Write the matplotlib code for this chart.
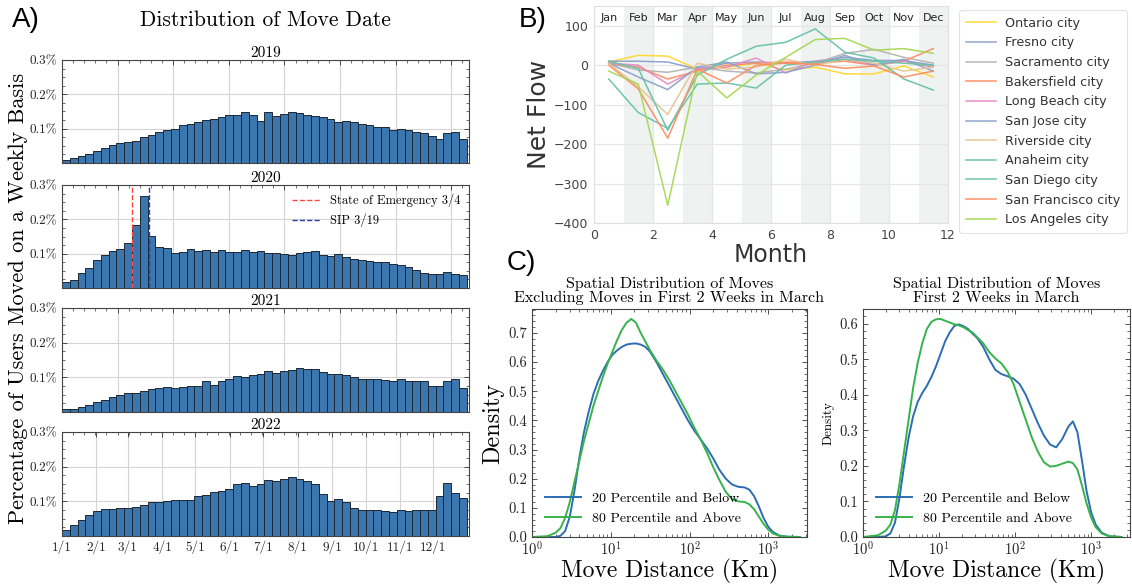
import numpy as np
import matplotlib
matplotlib.use("Agg")
import matplotlib.pyplot as plt
import matplotlib.ticker as mticker

# ---------------- DATA ----------------
# Panel A: weekly share of users moving (%), 52 weeks per year
years = ["2019", "2020", "2021", "2022"]
moves_2019 = [.010, .014, .019, .027, .035, .044, .053, .057, .061, .065,
              .076, .081, .090, .096, .100, .111, .115, .119, .124, .129,
              .133, .139, .141, .149, .139, .121, .149, .138, .144, .148,
              .146, .141, .136, .133, .129, .118, .123, .120, .113, .112,
              .105, .104, .097, .098, .095, .090, .087, .080, .070, .087,
              .091, .071]
moves_2020 = [.018, .024, .043, .059, .081, .097, .109, .114, .132, .184,
              .267, .151, .118, .116, .103, .105, .113, .108, .112, .106,
              .112, .106, .104, .112, .106, .109, .103, .101, .099, .097,
              .103, .105, .107, .097, .094, .099, .090, .084, .082, .080,
              .076, .076, .070, .066, .062, .052, .045, .042, .040, .047,
              .041, .039]
moves_2021 = [.008, .010, .014, .020, .028, .035, .044, .049, .054, .055,
              .061, .067, .069, .071, .069, .071, .075, .076, .088, .079,
              .088, .096, .105, .102, .108, .111, .117, .113, .119, .120,
              .126, .124, .124, .115, .110, .111, .106, .100, .095, .096,
              .096, .092, .090, .096, .090, .088, .090, .076, .076, .089,
              .094, .068]
moves_2022 = [.016, .033, .047, .062, .072, .079, .079, .080, .082, .084,
              .090, .097, .098, .102, .104, .105, .105, .116, .118, .126,
              .130, .136, .150, .153, .145, .151, .162, .159, .164, .169,
              .165, .160, .151, .121, .102, .106, .097, .081, .076, .076,
              .076, .071, .070, .074, .073, .075, .074, .075, .115, .152,
              .125, .110]
month_start_days = [0, 31, 59, 90, 120, 151, 181, 212, 243, 273, 304, 334]
month_start_labels = ["1/1", "2/1", "3/1", "4/1", "5/1", "6/1", "7/1", "8/1",
                      "9/1", "10/1", "11/1", "12/1"]
emergency_day = 63   # 3/4
sip_day = 78         # 3/19

# Panel B: monthly net flow per city
month_names = ["Jan", "Feb", "Mar", "Apr", "May", "Jun", "Jul", "Aug",
               "Sep", "Oct", "Nov", "Dec"]
month_pos = [0.5, 1.5, 2.5, 3.5, 4.5, 5.5, 6.5, 7.5, 8.5, 9.5, 10.5, 11.5]
cities = ["Ontario city", "Fresno city", "Sacramento city", "Bakersfield city",
          "Long Beach city", "San Jose city", "Riverside city", "Anaheim city",
          "San Diego city", "San Francisco city", "Los Angeles city"]
ontario = [8, 25, 23, -10, -5, 5, -12, -5, -22, -22, -2, -30]
fresno = [10, 10, 8, -10, 5, 8, 5, 10, 20, 12, 12, 0]
sacramento = [5, -12, -18, -5, -15, -20, -10, 5, 30, 40, 20, 5]
bakersfield = [5, -5, -35, -15, 0, 5, 8, 5, 10, 0, 10, 42]
long_beach = [5, 0, -48, -10, -5, 18, -20, 10, 15, 0, 10, -5]
san_jose = [5, -30, -62, -5, 8, -22, -18, 0, 25, 0, 15, -15]
riverside = [5, -55, -125, 5, -10, -5, 15, 0, 15, 5, -15, -5]
anaheim = [10, -8, -165, -25, 15, 48, 58, 92, 33, 18, -35, -63]
san_diego = [-35, -120, -160, -48, -45, -58, 0, 8, 15, 10, 5, 0]
san_francisco = [0, -60, -185, -10, -45, 0, 5, 2, -8, -2, -30, -15]
los_angeles = [-15, -48, -355, -15, -83, -25, 20, 65, 68, 38, 42, 30]
city_colors = ["#ffd92f", "#8da0cb", "#b3b3b3", "#fc8d62", "#e78ac3", "#8da0cb",
               "#e5c494", "#66c2a5", "#66c2a5", "#fc8d62", "#a6d854"]

# Panel C: density of move distance (log10 km grid)
log_dist = [0.0, 0.2, 0.3, 0.36, 0.42, 0.48, 0.54, 0.60, 0.66, 0.72, 0.78, 0.84,
            0.90, 0.96, 1.02, 1.08, 1.14, 1.20, 1.26, 1.32, 1.38, 1.44, 1.50,
            1.58, 1.66, 1.74, 1.82, 1.90, 1.98, 2.06, 2.14, 2.22, 2.30, 2.38,
            2.46, 2.54, 2.62, 2.70, 2.76, 2.82, 2.88, 2.94, 3.00, 3.06, 3.14,
            3.24, 3.40]
excl_low = [0, 0, 0, .004, .02, .07, .16, .27, .36, .43, .49, .535, .57, .60,
            .625, .64, .652, .66, .663, .664, .66, .652, .635, .60, .56, .52,
            .48, .44, .40, .365, .335, .305, .27, .23, .20, .18, .172, .17,
            .162, .14, .105, .065, .035, .017, .005, .001, 0]
excl_high = [0, .003, .015, .03, .065, .12, .19, .26, .33, .39, .45, .50, .55,
             .595, .635, .675, .71, .735, .748, .735, .70, .67, .64, .605, .575,
             .54, .50, .46, .42, .375, .335, .29, .24, .195, .155, .13, .122,
             .12, .112, .095, .07, .045, .025, .012, .004, .001, 0]
march_low = [0, 0, .002, .01, .04, .11, .20, .28, .34, .38, .405, .425, .45,
             .48, .515, .55, .575, .593, .598, .593, .585, .572, .56, .535, .50,
             .47, .458, .452, .445, .43, .40, .36, .32, .285, .26, .252, .275,
             .31, .325, .295, .215, .13, .07, .035, .012, .002, 0]
march_high = [0, .005, .018, .035, .075, .15, .24, .33, .42, .49, .545, .585,
              .605, .612, .613, .608, .603, .598, .595, .59, .582, .575, .562,
              .545, .52, .502, .488, .465, .43, .38, .33, .28, .24, .21, .198,
              .20, .206, .212, .208, .19, .145, .095, .055, .028, .01, .002, 0]
group_labels = ["20 Percentile and Below", "80 Percentile and Above"]

# ---------------- STYLE ----------------
plt.rcParams["font.family"] = ["cmr10", "DejaVu Serif"]
plt.rcParams["mathtext.fontset"] = "cm"
plt.rcParams["axes.formatter.use_mathtext"] = True
plt.rcParams["axes.unicode_minus"] = False

SANS = ["DejaVu Sans"]
LABEL_FONT = ["Liberation Sans", "DejaVu Sans"]

fig = plt.figure(figsize=(11.32, 5.88), dpi=100)
W, H = 1132.0, 588.0


def box(l, t, r, b):
    return [l / W, 1 - b / H, (r - l) / W, (b - t) / H]


def sci_ticks(ax):
    ax.tick_params(which="both", direction="in", top=True, right=True,
                   colors="#333333", labelcolor="#222222")
    ax.tick_params(which="major", length=3.5, width=0.6)
    ax.tick_params(which="minor", length=2, width=0.5)
    for s in ax.spines.values():
        s.set_linewidth(0.8)
        s.set_color("#444444")


# ---------------- PANEL A ----------------
year_values = [moves_2019, moves_2020, moves_2021, moves_2022]
rows = [(60, 163), (185, 288), (308, 412), (432, 536)]
for yr, vals, (t, b) in zip(years, year_values, rows):
    ax = fig.add_axes(box(62, t, 469, b))
    weeks = np.arange(len(vals)) * 7
    ax.bar(weeks, np.array(vals), width=7, align="edge", color="#3b76af",
           edgecolor="#1c2733", linewidth=0.7, zorder=2)
    ax.set_xlim(0, 366)
    ax.set_ylim(0, 0.3)
    ax.set_yticks([0.1, 0.2, 0.3])
    ax.yaxis.set_major_formatter(mticker.FuncFormatter(lambda v, p: f"{v:.1f}%"))
    ax.yaxis.set_minor_locator(mticker.AutoMinorLocator(4))
    ax.grid(True, which="major", color="#d4d4d4", linewidth=0.8, zorder=0)
    ax.set_axisbelow(True)
    ax.set_title(yr, fontsize=11, pad=2)
    sci_ticks(ax)
    ax.tick_params(labelsize=9.5)
    if yr == "2022":
        ax.set_xticks(month_start_days)
        ax.set_xticklabels(month_start_labels)
        ax.xaxis.set_minor_locator(mticker.MultipleLocator(10))
    else:
        ax.xaxis.set_major_locator(mticker.MultipleLocator(50))
        ax.xaxis.set_minor_locator(mticker.AutoMinorLocator(5))
        ax.tick_params(labelbottom=False)
    if yr == "2020":
        ax.axvline(emergency_day, color="#ff4545", ls="--", lw=1.0,
                   label="State of Emergency 3/4", zorder=3)
        ax.axvline(sip_day, color="#2a3fb0", ls="--", lw=1.0,
                   label="SIP 3/19", zorder=3)
        ax.legend(loc="upper right", frameon=False, fontsize=9,
                  handlelength=2.2, borderaxespad=0.3, labelspacing=0.5)

fig.text(265 / W, 1 - 20 / H, "Distribution of Move Date", ha="center",
         va="center", fontsize=15.5)
fig.text(18 / W, 1 - 298 / H, "Percentage of Users Moved on a Weekly Basis",
         rotation=90, ha="center", va="center", fontsize=16)

# ---------------- PANEL B ----------------
axB = fig.add_axes(box(594, 6, 948, 223))
axB.set_facecolor("white")
for i in range(1, 12, 2):
    axB.axvspan(i, i + 1, color="#eef2f0", zorder=0, lw=0)
city_series = [ontario, fresno, sacramento, bakersfield, long_beach, san_jose,
               riverside, anaheim, san_diego, san_francisco, los_angeles]
handles = []
for name, series, col in zip(cities, city_series, city_colors):
    ln, = axB.plot(month_pos, series, color=col, lw=1.1, alpha=0.95,
                   label=name, zorder=3)
    handles.append(ln)
axB.set_xlim(0, 12)
axB.set_ylim(-400, 150)
axB.set_yticks([-400, -300, -200, -100, 0, 100])
axB.set_xticks([0, 2, 4, 6, 8, 10, 12])
axB.grid(True, color="#e6e6e6", lw=0.9, zorder=1)
axB.set_axisbelow(True)
for s in axB.spines.values():
    s.set_color("#e0e0e0")
    s.set_linewidth(0.8)
axB.tick_params(length=0, labelsize=9, colors="#444444", pad=4)
axB.yaxis.set_major_formatter(mticker.FuncFormatter(
    lambda v, p: ("\u2212%d" % abs(v)) if v < 0 else "%d" % v))
axB.xaxis.set_major_formatter(mticker.FuncFormatter(lambda v, p: "%d" % v))
for lab in axB.get_xticklabels() + axB.get_yticklabels():
    lab.set_fontfamily(SANS)
for mx, mn in zip(month_pos, month_names):
    axB.text(mx, 120, mn, ha="center", va="center", fontsize=8,
             family=SANS, color="#222222", zorder=4)
axB.set_ylabel("Net Flow", fontsize=18, family=SANS, color="#333333", labelpad=2)
axB.set_xlabel("Month", fontsize=17, family=SANS, color="#333333", labelpad=1)
legB = fig.legend(handles=handles, loc="upper left",
                  bbox_to_anchor=(953 / W, 1 - 4 / H),
                  prop={"family": SANS, "size": 9.2}, frameon=True,
                  handlelength=2.4, handletextpad=0.7, labelspacing=0.52,
                  borderpad=0.5, fancybox=True)
legB.get_frame().set_edgecolor("#dddddd")
legB.get_frame().set_linewidth(0.8)
for t in legB.get_texts():
    t.set_color("#333333")

# ---------------- PANEL C ----------------
c_blue = "#2c6db3"
c_green = "#36b34a"
dist = 10 ** np.array(log_dist)
panelC = [
    (box(532, 309, 807, 537), excl_low, excl_high,
     "Spatial Distribution of Moves\nExcluding Moves in First 2 Weeks in March",
     (1, 3100), (0, 0.782), 17.5),
    (box(863, 309, 1130, 537), march_low, march_high,
     "Spatial Distribution of Moves\nFirst 2 Weeks in March",
     (1, 3250), (0, 0.641), 9.5),
]
for rect, lo, hi, title, xl, yl, ylab_size in panelC:
    ax = fig.add_axes(rect)
    ax.plot(dist, lo, color=c_blue, lw=1.4, label=group_labels[0])
    ax.plot(dist, hi, color=c_green, lw=1.4, label=group_labels[1])
    ax.set_xscale("log")
    ax.set_xlim(*xl)
    ax.set_ylim(*yl)
    ax.yaxis.set_major_locator(mticker.MultipleLocator(0.1))
    ax.yaxis.set_major_formatter(mticker.FuncFormatter(lambda v, p: f"{v:.1f}"))
    ax.yaxis.set_minor_locator(mticker.AutoMinorLocator(5))
    ax.set_xticks([1, 10, 100, 1000])
    ax.xaxis.set_major_formatter(mticker.LogFormatterSciNotation())
    ax.xaxis.set_minor_locator(mticker.LogLocator(subs=np.arange(2, 10)))
    ax.xaxis.set_minor_formatter(mticker.NullFormatter())
    sci_ticks(ax)
    ax.tick_params(labelsize=10.5)
    ax.tick_params(axis="x", pad=3)
    ax.set_title(title, fontsize=11.5, pad=5, linespacing=1.0)
    ax.set_xlabel("Move Distance (Km)", fontsize=17, labelpad=0)
    ax.set_ylabel("Density", fontsize=ylab_size, labelpad=3)
    ax.legend(loc="lower left", bbox_to_anchor=(0.0, 0.0), frameon=False,
              fontsize=10, handlelength=2.6, labelspacing=0.5)

# ---------------- panel letters ----------------
fig.text(12 / W, 1 - 20 / H, "A)", fontsize=20, family=LABEL_FONT,
         ha="left", va="center")
fig.text(519 / W, 1 - 20 / H, "B)", fontsize=20, family=LABEL_FONT,
         ha="left", va="center")
fig.text(507 / W, 1 - 263 / H, "C)", fontsize=20, family=LABEL_FONT,
         ha="left", va="center")

fig.savefig("out.png", dpi=100)
